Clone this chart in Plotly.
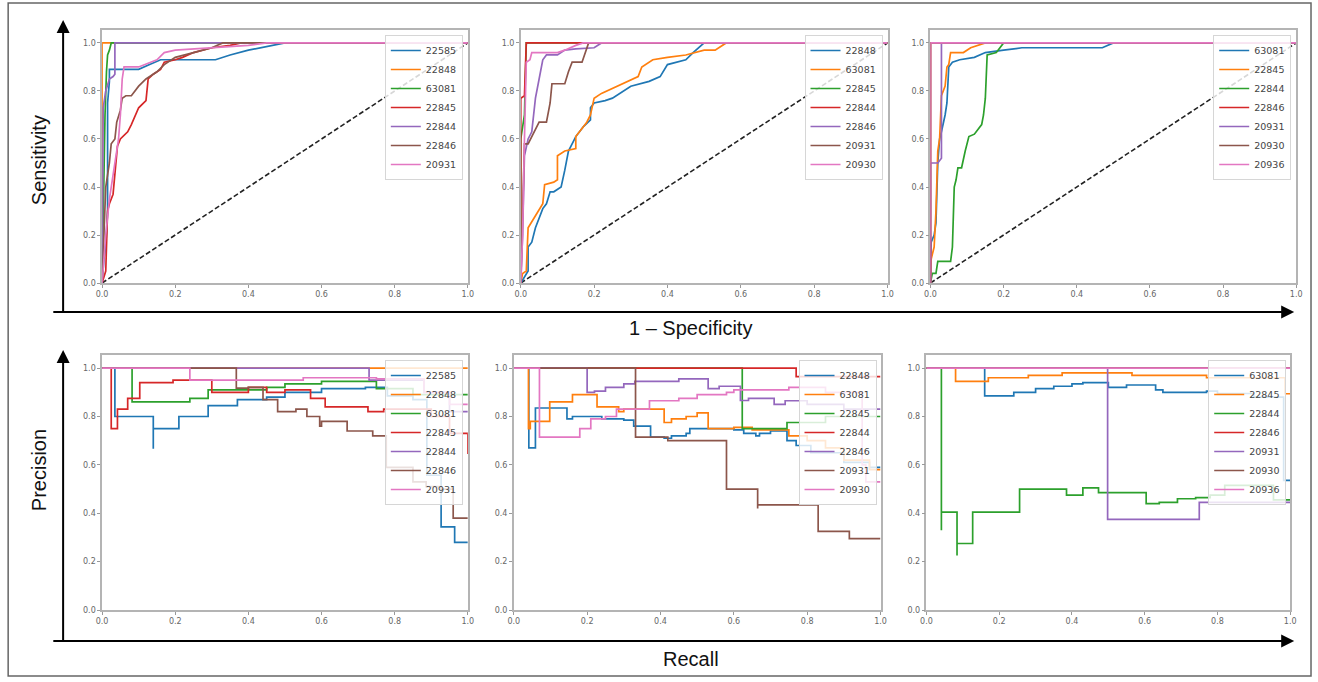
import plotly.graph_objects as go

W, H = 1318, 682

# ---------------- ROC data (1 - specificity, sensitivity) ----------------
# panel 1
r1_names = ["22585", "22848", "63081", "22845", "22844", "22846", "20931"]
r1_22585_x = [0, 0.005, 0.01, 0.015, 0.015, 0.02, 0.02, 0.10, 0.13, 0.16, 0.31, 0.35, 0.40, 0.45, 0.50, 1.0]
r1_22585_y = [0, 0.10, 0.15, 0.30, 0.75, 0.84, 0.89, 0.89, 0.91, 0.93, 0.93, 0.95, 0.97, 0.985, 1.0, 1.0]
r1_22848_x = [0, 0, 1.0]
r1_22848_y = [0, 1.0, 1.0]
r1_63081_x = [0, 0.003, 0.008, 0.012, 0.015, 0.02, 0.025, 1.0]
r1_63081_y = [0, 0.30, 0.70, 0.88, 0.95, 0.97, 1.0, 1.0]
r1_22845_x = [0, 0.005, 0.01, 0.015, 0.02, 0.03, 0.035, 0.042, 0.05, 0.07, 0.08, 0.10, 0.12, 0.126, 0.14, 0.16, 0.17, 0.20, 0.22, 0.25, 0.30, 0.35, 0.38, 1.0]
r1_22845_y = [0, 0.03, 0.05, 0.30, 0.33, 0.37, 0.45, 0.57, 0.60, 0.63, 0.66, 0.73, 0.76, 0.85, 0.87, 0.89, 0.92, 0.93, 0.94, 0.96, 0.98, 0.99, 1.0, 1.0]
r1_22844_x = [0, 0.003, 0.01, 0.015, 0.02, 0.03, 0.035, 0.035, 1.0]
r1_22844_y = [0, 0.73, 0.80, 0.83, 0.85, 0.86, 0.87, 1.0, 1.0]
r1_22846_x = [0, 0.005, 0.01, 0.015, 0.02, 0.025, 0.035, 0.04, 0.05, 0.055, 0.065, 0.08, 0.10, 0.12, 0.15, 0.17, 0.20, 0.25, 0.30, 0.33, 1.0]
r1_22846_y = [0, 0.25, 0.40, 0.45, 0.50, 0.58, 0.60, 0.67, 0.72, 0.77, 0.78, 0.78, 0.82, 0.85, 0.88, 0.91, 0.94, 0.96, 0.98, 1.0, 1.0]
r1_20931_x = [0, 0.01, 0.02, 0.035, 0.045, 0.05, 0.055, 0.06, 0.10, 0.15, 0.17, 0.20, 0.30, 0.40, 0.45, 1.0]
r1_20931_y = [0, 0.20, 0.35, 0.50, 0.60, 0.70, 0.85, 0.90, 0.90, 0.93, 0.96, 0.97, 0.98, 0.99, 1.0, 1.0]

# panel 2
r2_names = ["22848", "63081", "22845", "22844", "22846", "20931", "20930"]
r2_22848_x = [0, 0.02, 0.02, 0.03, 0.04, 0.05, 0.06, 0.07, 0.08, 0.09, 0.11, 0.12, 0.13, 0.15, 0.17, 0.19, 0.19, 0.20, 0.23, 0.25, 0.28, 0.30, 0.35, 0.38, 0.40, 0.45, 0.47, 0.50, 1.0]
r2_22848_y = [0, 0.05, 0.15, 0.17, 0.23, 0.27, 0.31, 0.33, 0.38, 0.38, 0.40, 0.47, 0.55, 0.61, 0.65, 0.68, 0.73, 0.75, 0.76, 0.77, 0.80, 0.82, 0.84, 0.86, 0.91, 0.93, 0.96, 1.0, 1.0]
r2_63081_x = [0, 0.005, 0.015, 0.02, 0.04, 0.06, 0.065, 0.09, 0.10, 0.10, 0.12, 0.15, 0.15, 0.18, 0.19, 0.20, 0.22, 0.25, 0.28, 0.32, 0.33, 0.36, 0.40, 0.45, 0.50, 0.53, 0.56, 1.0]
r2_63081_y = [0, 0.04, 0.05, 0.23, 0.28, 0.33, 0.41, 0.42, 0.43, 0.53, 0.55, 0.56, 0.61, 0.67, 0.70, 0.77, 0.79, 0.81, 0.83, 0.86, 0.90, 0.93, 0.94, 0.95, 0.97, 0.97, 1.0, 1.0]
r2_22845_x = [0, 0, 0.01, 0.015, 1.0]
r2_22845_y = [0, 0.60, 0.70, 1.0, 1.0]
r2_22844_x = [0, 0, 0.01, 0.015, 1.0]
r2_22844_y = [0, 0.77, 0.78, 1.0, 1.0]
r2_22846_x = [0, 0.005, 0.01, 0.02, 0.03, 0.035, 0.04, 0.05, 0.055, 0.06, 0.07, 0.10, 0.12, 0.15, 0.20, 0.22, 1.0]
r2_22846_y = [0, 0.20, 0.53, 0.60, 0.63, 0.70, 0.77, 0.85, 0.90, 0.93, 0.95, 0.95, 0.97, 0.975, 0.98, 1.0, 1.0]
r2_20931_x = [0, 0.005, 0.01, 0.02, 0.04, 0.05, 0.07, 0.08, 0.085, 0.12, 0.13, 0.14, 0.167, 0.185, 1.0]
r2_20931_y = [0, 0.33, 0.58, 0.58, 0.64, 0.67, 0.67, 0.75, 0.83, 0.83, 0.88, 0.92, 0.92, 1.0, 1.0]
r2_20930_x = [0, 0.005, 0.01, 0.015, 0.025, 0.03, 0.10, 0.12, 0.15, 0.17, 1.0]
r2_20930_y = [0, 0.20, 0.60, 0.92, 0.93, 0.96, 0.96, 0.97, 0.99, 1.0, 1.0]

# panel 3
r3_names = ["63081", "22845", "22844", "22846", "20931", "20930", "20936"]
r3_63081_x = [0, 0.002, 0.01, 0.015, 0.02, 0.025, 0.03, 0.035, 0.04, 0.045, 0.05, 0.06, 0.08, 0.12, 0.15, 0.20, 0.25, 0.35, 0.47, 0.50, 1.0]
r3_63081_y = [0, 0.17, 0.20, 0.25, 0.50, 0.60, 0.63, 0.66, 0.70, 0.75, 0.90, 0.92, 0.93, 0.94, 0.96, 0.97, 0.98, 0.98, 0.98, 1.0, 1.0]
r3_22845_x = [0, 0.002, 0.01, 0.015, 0.02, 0.025, 0.03, 0.04, 0.045, 0.05, 0.055, 0.09, 0.11, 0.13, 0.15, 1.0]
r3_22845_y = [0, 0.10, 0.15, 0.30, 0.55, 0.60, 0.78, 0.82, 0.90, 0.91, 0.96, 0.96, 0.98, 0.99, 1.0, 1.0]
r3_22844_x = [0, 0.005, 0.015, 0.02, 0.055, 0.06, 0.065, 0.07, 0.075, 0.085, 0.095, 0.105, 0.12, 0.14, 0.145, 0.15, 0.155, 0.17, 0.18, 0.19, 0.20, 1.0]
r3_22844_y = [0, 0.04, 0.04, 0.09, 0.09, 0.15, 0.40, 0.43, 0.48, 0.48, 0.55, 0.61, 0.62, 0.66, 0.70, 0.77, 0.95, 0.955, 0.96, 0.98, 1.0, 1.0]
r3_22846_x = [0, 0, 1.0]
r3_22846_y = [0, 1.0, 1.0]
r3_20931_x = [0, 0, 0.02, 0.03, 0.03, 1.0]
r3_20931_y = [0, 0.50, 0.50, 0.52, 1.0, 1.0]
r3_20930_x = [0, 0, 1.0]
r3_20930_y = [0, 1.0, 1.0]
r3_20936_x = [0, 0, 1.0]
r3_20936_y = [0, 1.0, 1.0]

# ---------------- Precision-recall data (recall, precision) ----------------
# panel 4
p1_names = ["22585", "22848", "63081", "22845", "22844", "22846", "20931"]
p1_22585_x = [0, 0.035, 0.14, 0.14, 0.21, 0.29, 0.37, 0.45, 0.50, 0.60, 0.72, 0.78, 0.85, 0.888, 0.927, 0.964, 1.0]
p1_22585_y = [1.0, 0.80, 0.667, 0.75, 0.80, 0.845, 0.87, 0.88, 0.90, 0.915, 0.92, 0.885, 0.87, 0.557, 0.344, 0.28, 0.28]
p1_22848_x = [0, 1.0]
p1_22848_y = [1.0, 1.0]
p1_63081_x = [0, 0.082, 0.24, 0.29, 0.45, 0.50, 0.60, 0.75, 0.85, 1.0]
p1_63081_y = [1.0, 0.86, 0.875, 0.91, 0.92, 0.935, 0.945, 0.915, 0.89, 0.89]
p1_22845_x = [0, 0.025, 0.042, 0.07, 0.103, 0.194, 0.30, 0.40, 0.45, 0.50, 0.57, 0.61, 0.727, 0.77, 0.90, 0.95, 1.0]
p1_22845_y = [1.0, 0.75, 0.83, 0.875, 0.94, 0.95, 0.90, 0.92, 0.90, 0.91, 0.875, 0.84, 0.82, 0.83, 0.80, 0.73, 0.645]
p1_22844_x = [0, 0.73, 0.88, 0.95, 1.0]
p1_22844_y = [1.0, 0.95, 0.90, 0.82, 0.82]
p1_22846_x = [0, 0.367, 0.40, 0.44, 0.48, 0.53, 0.56, 0.595, 0.60, 0.67, 0.74, 0.777, 0.85, 0.886, 0.927, 0.96, 1.0]
p1_22846_y = [1.0, 0.917, 0.92, 0.87, 0.82, 0.83, 0.80, 0.76, 0.78, 0.74, 0.72, 0.59, 0.53, 0.51, 0.50, 0.38, 0.38]
p1_20931_x = [0, 0.24, 0.55, 0.75, 0.88, 0.95, 1.0]
p1_20931_y = [1.0, 0.95, 0.96, 0.955, 0.90, 0.85, 0.85]

# panel 5
p2_names = ["22848", "63081", "22845", "22844", "22846", "20931", "20930"]
p2_22848_x = [0, 0.041, 0.059, 0.145, 0.16, 0.24, 0.30, 0.327, 0.373, 0.41, 0.43, 0.47, 0.48, 0.60, 0.627, 0.66, 0.67, 0.70, 0.745, 0.77, 0.81, 0.90, 0.97, 1.0]
p2_22848_y = [1.0, 0.67, 0.835, 0.79, 0.80, 0.79, 0.785, 0.76, 0.715, 0.71, 0.72, 0.73, 0.75, 0.745, 0.73, 0.72, 0.73, 0.74, 0.70, 0.68, 0.65, 0.61, 0.59, 0.59]
p2_63081_x = [0, 0.04, 0.045, 0.098, 0.16, 0.227, 0.286, 0.30, 0.41, 0.43, 0.47, 0.50, 0.53, 0.60, 0.65, 0.75, 0.80, 0.85, 0.90, 0.97, 1.0]
p2_63081_y = [1.0, 0.75, 0.78, 0.86, 0.89, 0.84, 0.82, 0.83, 0.775, 0.79, 0.80, 0.815, 0.75, 0.755, 0.745, 0.72, 0.70, 0.67, 0.62, 0.58, 0.58]
p2_22845_x = [0, 0.623, 0.745, 0.85, 1.0]
p2_22845_y = [1.0, 0.75, 0.775, 0.80, 0.80]
p2_22844_x = [0, 0.77, 1.0]
p2_22844_y = [1.0, 0.965, 0.965]
p2_22846_x = [0, 0.20, 0.22, 0.25, 0.30, 0.33, 0.45, 0.53, 0.56, 0.618, 0.64, 0.71, 0.74, 0.80, 0.90, 1.0]
p2_22846_y = [1.0, 0.90, 0.905, 0.92, 0.935, 0.945, 0.955, 0.915, 0.925, 0.866, 0.875, 0.85, 0.865, 0.85, 0.83, 0.83]
p2_20931_x = [0, 0.332, 0.42, 0.58, 0.665, 0.665, 0.83, 0.915, 1.0]
p2_20931_y = [1.0, 0.715, 0.70, 0.50, 0.42, 0.435, 0.325, 0.295, 0.295]
p2_20930_x = [0, 0.07, 0.18, 0.21, 0.25, 0.28, 0.37, 0.45, 0.50, 0.58, 0.60, 0.75, 0.85, 0.95, 0.96, 1.0]
p2_20930_y = [1.0, 0.715, 0.75, 0.79, 0.80, 0.83, 0.865, 0.875, 0.89, 0.90, 0.91, 0.92, 0.90, 0.60, 0.53, 0.53]

# panel 6
p3_names = ["63081", "22845", "22844", "22846", "20931", "20930", "20936"]
p3_63081_x = [0, 0.16, 0.24, 0.30, 0.35, 0.40, 0.43, 0.50, 0.55, 0.63, 0.65, 0.77, 0.80, 0.90, 0.982, 1.0]
p3_63081_y = [1.0, 0.885, 0.90, 0.915, 0.925, 0.935, 0.94, 0.92, 0.93, 0.91, 0.90, 0.905, 0.895, 0.88, 0.536, 0.536]
p3_22845_x = [0, 0.08, 0.17, 0.28, 0.373, 0.565, 0.77, 0.986, 1.0]
p3_22845_y = [1.0, 0.945, 0.96, 0.97, 0.98, 0.97, 0.96, 0.894, 0.894]
p3_22844_x = [0, 0.041, 0.041, 0.084, 0.084, 0.127, 0.256, 0.385, 0.43, 0.473, 0.604, 0.64, 0.69, 0.74, 0.78, 0.82, 0.954, 1.0]
p3_22844_y = [1.0, 0.33, 0.405, 0.225, 0.275, 0.405, 0.50, 0.475, 0.505, 0.485, 0.44, 0.445, 0.46, 0.465, 0.475, 0.515, 0.455, 0.455]
p3_22846_x = [0, 1.0]
p3_22846_y = [1.0, 1.0]
p3_20931_x = [0, 0.498, 0.75, 1.0]
p3_20931_y = [1.0, 0.375, 0.445, 0.445]
p3_20930_x = [0, 1.0]
p3_20930_y = [1.0, 1.0]
p3_20936_x = [0, 1.0]
p3_20936_y = [1.0, 1.0]

tick_vals = [0.0, 0.2, 0.4, 0.6, 0.8, 1.0]
diag_x = [0.0, 1.0]
diag_y = [0.0, 1.0]

colors = ["#1f77b4", "#ff7f0e", "#2ca02c", "#d62728", "#9467bd", "#8c564b", "#e377c2"]

# map target-image pixels to paper fractions (small correction for the capture framing)
SX, OX, SY = 0.99163, 4.84, 0.9926


def fx(px):
    return min(max((px - OX) / SX / W, 0.0), 1.0)


def fy(py):
    return min(max(1 - (py / SY) / H, 0.0), 1.0)


g = globals()
panels = [
    ("r1", r1_names, "roc"), ("r2", r2_names, "roc"), ("r3", r3_names, "roc"),
    ("p1", p1_names, "pr"), ("p2", p2_names, "pr"), ("p3", p3_names, "pr"),
]

# pixel layout of the six plot areas (left, right, top, bottom)
boxes = [
    (101, 467, 30, 283), (520, 887, 30, 283), (930, 1296, 30, 283),
    (101, 467, 355, 610), (513, 880, 355, 610), (926, 1290, 355, 610),
]
legend_pos = [(462, 35), (882, 35), (1291, 35), (462, 360), (876, 360), (1286, 360)]

fig = go.Figure()
layout = {}
for i, (key, names, kind) in enumerate(panels):
    n = i + 1
    xa = "x" if n == 1 else f"x{n}"
    ya = "y" if n == 1 else f"y{n}"
    lg = "legend" if n == 1 else f"legend{n}"
    if kind == "roc":
        fig.add_trace(go.Scatter(x=diag_x, y=diag_y, mode="lines", xaxis=xa, yaxis=ya,
                                 line=dict(color="#222222", width=1.6, dash="5px,2.5px"),
                                 showlegend=False, hoverinfo="skip"))
    for j, nm in enumerate(names):
        xs = g[f"{key}_{nm}_x"]
        ys = g[f"{key}_{nm}_y"]
        fig.add_trace(go.Scatter(
            x=xs, y=ys, mode="lines", name=nm, xaxis=xa, yaxis=ya, legend=lg,
            line=dict(color=colors[j], width=1.7, shape=("hv" if kind == "pr" else "linear")),
        ))
    l, r, t, b = boxes[i]
    axis_common = dict(showgrid=False, zeroline=False, showline=True, mirror=True,
                       linecolor="#b4b4b4", linewidth=1.5, ticks="outside", ticklen=3,
                       tickcolor="#999999", tickvals=tick_vals, tickformat=".1f",
                       tickfont=dict(family="DejaVu Sans", size=8, color="#666666"))
    layout[f"xaxis{'' if n == 1 else n}"] = dict(domain=[fx(l), fx(r)], range=[0, 1.0],
                                                 anchor=ya, **axis_common)
    layout[f"yaxis{'' if n == 1 else n}"] = dict(domain=[fy(b), fy(t)], range=[0, 1.054],
                                                 anchor=xa, **axis_common)
    lx, ly = legend_pos[i]
    layout[lg] = dict(x=fx(lx), y=fy(ly), xanchor="right", yanchor="top",
                      bgcolor="rgba(255,255,255,0.82)", bordercolor="#d6d6d6", borderwidth=1,
                      font=dict(family="DejaVu Sans", size=9.5, color="#444444"),
                      itemwidth=30, tracegroupgap=0)

label_font = dict(family="Liberation Sans, Arial", size=20, color="#111111")
annotations = [
    dict(text="Sensitivity", x=fx(38), y=fy(160), xref="paper", yref="paper",
         xanchor="center", yanchor="middle", showarrow=False, textangle=-90, font=label_font),
    dict(text="1 – Specificity", x=fx(690), y=fy(328), xref="paper", yref="paper",
         xanchor="center", yanchor="middle", showarrow=False, font=label_font),
    dict(text="Precision", x=fx(38), y=fy(470), xref="paper", yref="paper",
         xanchor="center", yanchor="middle", showarrow=False, textangle=-90, font=label_font),
    dict(text="Recall", x=fx(690), y=fy(659), xref="paper", yref="paper",
         xanchor="center", yanchor="middle", showarrow=False, font=label_font),
]
# big axis arrows
for (hx, hy, tx, ty) in [(62, 20, 62, 312), (1294, 312, 62, 312),
                         (62, 350, 62, 641), (1294, 641, 62, 641)]:
    annotations.append(dict(x=fx(hx), y=fy(hy), xref="paper", yref="paper",
                            ax=(tx - hx) / SX, ay=(ty - hy) / SY, axref="pixel", ayref="pixel",
                            text="", showarrow=True, arrowhead=2, arrowsize=1.3,
                            arrowwidth=2, arrowcolor="#000000"))

shapes = [dict(type="rect", xref="paper", yref="paper", x0=fx(7), x1=1 - 1 / W,
               y0=1 / H, y1=fy(3), line=dict(color="#666666", width=1.5))]

fig.update_layout(autosize=True, margin=dict(l=0, r=0, t=0, b=0, pad=0),
                  plot_bgcolor="white", paper_bgcolor="white",
                  annotations=annotations, shapes=shapes, **layout)

post = ("document.documentElement.style.margin='0';"
        "document.documentElement.style.overflow='hidden';"
        "document.documentElement.style.height='100%';"
        "document.body.style.margin='0';"
        "document.body.style.overflow='hidden';"
        "document.body.style.height='100%';"
        "var gd=document.getElementById('{plot_id}');"
        "gd.style.position='fixed';gd.style.left='0';gd.style.top='0';"
        "gd.style.width='100vw';gd.style.height='100vh';"
        "Plotly.Plots.resize(gd);")

fig.write_html("out.html", config={"displayModeBar": False, "responsive": True},
               default_width="100vw", default_height="100vh", post_script=post)
